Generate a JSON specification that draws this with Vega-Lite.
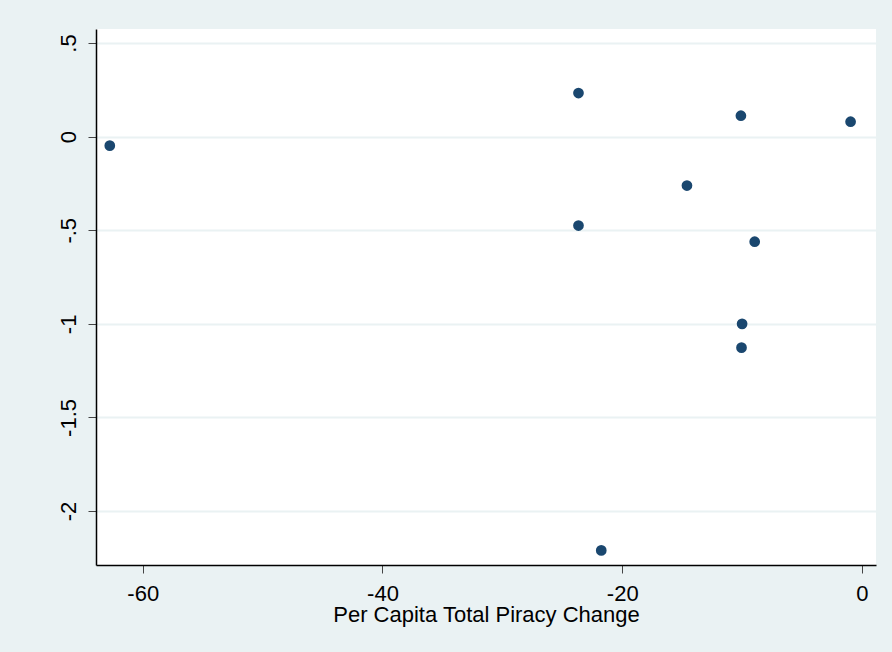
{
  "$schema": "https://vega.github.io/schema/vega-lite/v6.json",
  "autosize": {"type": "none"},
  "width": 780,
  "height": 536,
  "padding": {"left": 96, "top": 29, "right": 16, "bottom": 87},
  "background": "#EAF2F3",
  "data": {
    "values": [
      {"change": -62.75, "value": -0.048},
      {"change": -23.65, "value": 0.233},
      {"change": -10.1, "value": 0.112},
      {"change": -0.95, "value": 0.08},
      {"change": -14.6, "value": -0.261},
      {"change": -23.65, "value": -0.475},
      {"change": -8.95, "value": -0.561},
      {"change": -10.0, "value": -1.0},
      {"change": -10.05, "value": -1.127},
      {"change": -21.75, "value": -2.21}
    ]
  },
  "mark": {"type": "point", "filled": true, "shape": "circle", "size": 115, "color": "#1A476F", "opacity": 1},
  "encoding": {
    "x": {
      "field": "change",
      "type": "quantitative",
      "scale": {"domain": [-63.9, 1.17], "nice": false, "zero": false},
      "axis": {
        "title": "Per Capita Total Piracy Change",
        "values": [-60, -40, -20, 0],
        "labelExpr": "toString(datum.value)",
        "grid": false,
        "domainColor": "#000000",
        "domainWidth": 1.5,
        "tickColor": "#444444",
        "tickSize": 8,
        "tickWidth": 1,
        "labelFont": "Liberation Sans",
        "labelFontSize": 22,
        "labelColor": "#000000",
        "labelPadding": 10,
        "titleFont": "Liberation Sans",
        "titleFontSize": 22,
        "titleFontWeight": "normal",
        "titleColor": "#000000",
        "titlePadding": 0
      }
    },
    "y": {
      "field": "value",
      "type": "quantitative",
      "scale": {"domain": [-2.288, 0.575], "nice": false, "zero": false},
      "axis": {
        "title": null,
        "values": [-2, -1.5, -1, -0.5, 0, 0.5],
        "labelExpr": "datum.value == 0.5 ? '.5' : datum.value == -0.5 ? '-.5' : toString(datum.value)",
        "grid": true,
        "gridColor": "#EAF2F3",
        "gridWidth": 2,
        "domainColor": "#000000",
        "domainWidth": 1.5,
        "tickColor": "#444444",
        "tickSize": 8,
        "tickWidth": 1,
        "labelAngle": -90,
        "labelAlign": "center",
        "labelBaseline": "bottom",
        "labelFont": "Liberation Sans",
        "labelFontSize": 22,
        "labelColor": "#000000",
        "labelPadding": 8
      }
    }
  },
  "config": {
    "view": {"fill": "#FFFFFF", "stroke": null}
  }
}
